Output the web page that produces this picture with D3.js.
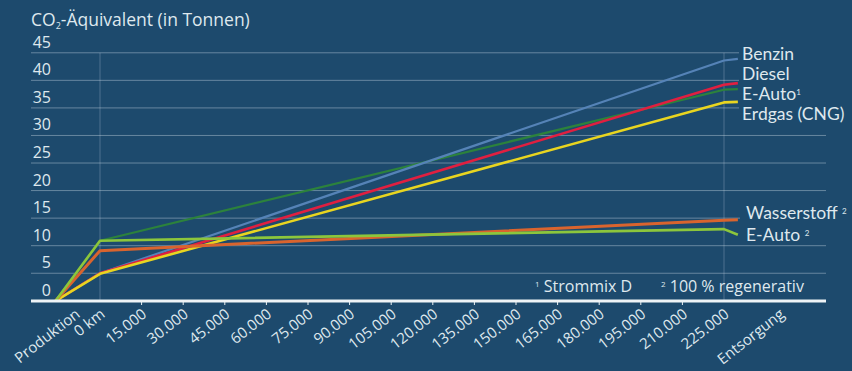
<!DOCTYPE html>
<html>
<head>
<meta charset="utf-8">
<script src="https://cdn.jsdelivr.net/npm/d3@7"></script>
<style>
  body { margin: 0; background: #1d4a6d; }
  svg { display: block; font-family: "Open Sans", Lato, sans-serif; }
</style>
</head>
<body>
<script>
var w = 852;
var h = 371;

// Stufen: Produktion, 0 km, 225.000 km, Entsorgung (x in km)
var stageKm = [-16000, 0, 225000, 230000];

// CO2-Äquivalent in Tonnen je Stufe
var benzin      = [0, 5.0, 43.6, 43.9];
var diesel      = [0, 5.0, 39.2, 39.5];
var eAuto1      = [0, 10.9, 38.3, 38.4];
var erdgas      = [0, 4.9, 36.0, 36.1];
var wasserstoff = [0, 9.1, 14.6, 14.7];
var eAuto2      = [0, 10.9, 13.0, 12.0];

var tickKm = [-9000, 0, 15000, 30000, 45000, 60000, 75000, 90000, 105000, 120000,
              135000, 150000, 165000, 180000, 195000, 210000, 225000, 245000];
var tickLabels = ["Produktion", "0 km", "15.000", "30.000", "45.000", "60.000", "75.000",
                  "90.000", "105.000", "120.000", "135.000", "150.000", "165.000",
                  "180.000", "195.000", "210.000", "225.000", "Entsorgung"];
var yTicks = [0, 5, 10, 15, 20, 25, 30, 35, 40, 45];

var series = [
  { name: "E-Auto", sup: "1", values: eAuto1, color: "#2c823c", width: 2.2 },
  { name: "Benzin", sup: "", values: benzin, color: "#5583b7", width: 2.2 },
  { name: "Diesel", sup: "", values: diesel, color: "#e01f40", width: 2.6 },
  { name: "Erdgas (CNG)", sup: "", values: erdgas, color: "#e8d520", width: 2.6 },
  { name: "Wasserstoff", sup: "2", values: wasserstoff, color: "#d9642e", width: 3 },
  { name: "E-Auto", sup: "2", values: eAuto2, color: "#8cc63c", width: 2.6 }
];

var x = d3.scaleLinear()
    .domain([0, 225000])
    .range([100, 724]);

var y = d3.scaleLinear()
    .domain([0, 45])
    .range([300.8, 52.8]);

var svg = d3.select("body")
    .append("svg")
    .attr("width", w)
    .attr("height", h);

svg.append("rect")
    .attr("width", w)
    .attr("height", h)
    .attr("fill", "#1d4a6d");

// Gitterlinien
svg.selectAll("line.grid")
    .data(yTicks.slice(1))
    .enter()
    .append("line")
    .attr("class", "grid")
    .attr("x1", 31)
    .attr("x2", 826)
    .attr("y1", function(d) { return y(d); })
    .attr("y2", function(d) { return y(d); })
    .attr("stroke", "rgba(205,220,232,0.42)")
    .attr("stroke-width", 1);

svg.selectAll("line.vgrid")
    .data([0, 225000])
    .enter()
    .append("line")
    .attr("class", "vgrid")
    .attr("x1", function(d) { return x(d); })
    .attr("x2", function(d) { return x(d); })
    .attr("y1", y(45))
    .attr("y2", y(0))
    .attr("stroke", "rgba(205,220,232,0.28)")
    .attr("stroke-width", 1);

// Y-Beschriftung
svg.selectAll("text.ytick")
    .data(yTicks)
    .enter()
    .append("text")
    .attr("class", "ytick")
    .attr("x", 51)
    .attr("y", function(d) { return y(d) - 5; })
    .attr("text-anchor", "end")
    .attr("fill", "#dfe8ee")
    .style("font-size", "16px")
    .text(function(d) { return d; });

// Titel
var title = svg.append("text")
    .attr("x", 31)
    .attr("y", 26)
    .attr("fill", "#dfe8ee")
    .style("font-size", "17.5px");
title.append("tspan").text("CO");
title.append("tspan").attr("dy", 3).style("font-size", "9px").text("2");
title.append("tspan").attr("dy", -3).text("-Äquivalent (in Tonnen)");

// Linien
var line = d3.line()
    .x(function(d, i) { return x(stageKm[i]); })
    .y(function(d) { return y(d); });

svg.selectAll("path.serie")
    .data(series)
    .enter()
    .append("path")
    .attr("class", "serie")
    .attr("d", function(d) { return line(d.values); })
    .attr("fill", "none")
    .attr("stroke", function(d) { return d.color; })
    .attr("stroke-width", function(d) { return d.width; })
    .attr("stroke-linejoin", "round");

// Legendenflächen decken die Gitterlinien ab
svg.append("rect")
    .attr("x", 739).attr("y", 42).attr("width", 100).attr("height", 84)
    .attr("fill", "#1d4a6d");
svg.append("rect")
    .attr("x", 740).attr("y", 203).attr("width", 100).attr("height", 37)
    .attr("fill", "#1d4a6d");

// Legende
var legend = [
  { text: "Benzin", sup: "", x: 742, y: 60 },
  { text: "Diesel", sup: "", x: 742, y: 80 },
  { text: "E-Auto", sup: "1", x: 742, y: 100 },
  { text: "Erdgas (CNG)", sup: "", x: 742, y: 120 },
  { text: "Wasserstoff ", sup: "2", x: 746, y: 219 },
  { text: "E-Auto ", sup: "2", x: 746, y: 241 }
];
var lg = svg.selectAll("text.legend")
    .data(legend)
    .enter()
    .append("text")
    .attr("class", "legend")
    .attr("x", function(d) { return d.x; })
    .attr("y", function(d) { return d.y; })
    .attr("fill", "#dfe8ee")
    .style("font-family", "Lato, sans-serif")
    .style("font-size", "17.5px");
lg.append("tspan").text(function(d) { return d.text; });
lg.append("tspan")
    .attr("dy", -5)
    .style("font-size", "8px")
    .text(function(d) { return d.sup; });

// Fußnote
var fn1 = svg.append("text")
    .attr("x", 535)
    .attr("y", 292)
    .attr("fill", "#dfe8ee")
    .style("font-size", "16px");
fn1.append("tspan").attr("dy", -5).style("font-size", "8px").text("1");
fn1.append("tspan").attr("dy", 5).text(" Strommix D");

var fn2 = svg.append("text")
    .attr("x", 661)
    .attr("y", 292)
    .attr("fill", "#dfe8ee")
    .style("font-size", "16px");
fn2.append("tspan").attr("dy", -5).style("font-size", "8px").text("2");
fn2.append("tspan").attr("dy", 5).text(" 100 % regenerativ");

// X-Achse
svg.append("line")
    .attr("x1", 31).attr("x2", 826)
    .attr("y1", 301).attr("y2", 301)
    .attr("stroke", "#eef3f6")
    .attr("stroke-width", 3);

svg.selectAll("line.xtick")
    .data(tickKm.slice(2, 16))
    .enter()
    .append("line")
    .attr("class", "xtick")
    .attr("x1", function(d) { return x(d); })
    .attr("x2", function(d) { return x(d); })
    .attr("y1", 302).attr("y2", 305)
    .attr("stroke", "#eef3f6")
    .attr("stroke-width", 1);

svg.selectAll("text.xtick")
    .data(tickKm)
    .enter()
    .append("text")
    .attr("class", "xtick")
    .attr("text-anchor", "end")
    .attr("fill", "#dfe8ee")
    .style("font-size", "15px")
    .attr("transform", function(d) {
        return "translate(" + (x(d) + 6) + "," + 316 + ") rotate(-38)";
    })
    .text(function(d, i) { return tickLabels[i]; });
</script>
</body>
</html>
